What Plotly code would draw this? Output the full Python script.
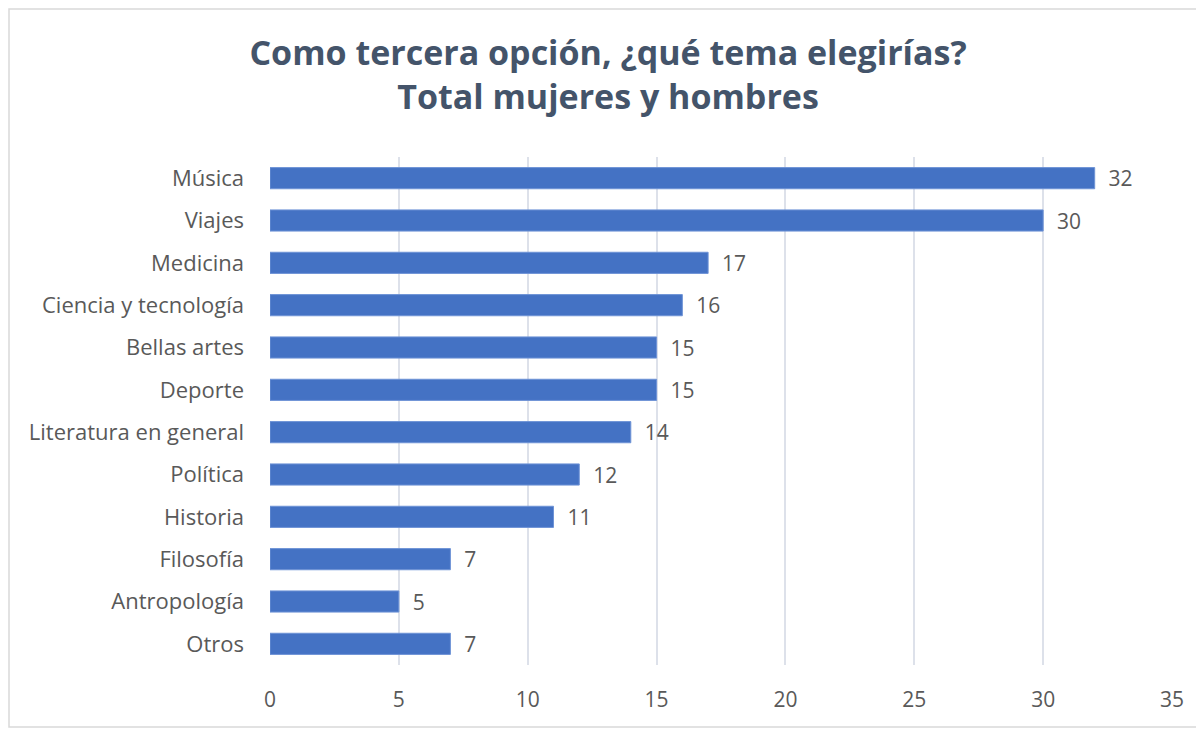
import plotly.graph_objects as go

temas = ["Música", "Viajes", "Medicina", "Ciencia y tecnología", "Bellas artes",
         "Deporte", "Literatura en general", "Política", "Historia", "Filosofía",
         "Antropología", "Otros"]
valores = [32, 30, 17, 16, 15, 15, 14, 12, 11, 7, 5, 7]
titulo = "Como tercera opción, ¿qué tema elegirías?<br>Total mujeres y hombres"

# la página tiene 8px de margen en el body, se compensa aquí
W, H = 1196, 722
L, R, T, B = 262, 32, 149, 65
pw, ph = W - L - R, H - T - B

fig = go.Figure(go.Bar(
    x=valores, y=temas, orientation="h",
    marker=dict(color="#4472C4", line=dict(color="#6E93D6", width=1)),
    width=0.5,
    text=valores, texttemplate="  %{x}", textposition="outside",
    constraintext="none",
    textfont=dict(size=21, color="#595959"),
    cliponaxis=False,
))

# borde del gráfico
fig.add_shape(type="rect", xref="paper", yref="paper",
              x0=(1 - L) / pw, x1=(1189 - L) / pw,
              y0=(H - B - 719) / ph, y1=(H - B - 1) / ph,
              line=dict(color="#D9D9D9", width=1.5), layer="below")

fig.update_layout(
    width=W, height=H,
    margin=dict(l=L, r=R, t=T, b=B),
    paper_bgcolor="white", plot_bgcolor="white",
    font=dict(family="Open Sans", color="#595959"),
    title=dict(text=titulo, x=0.5017, xanchor="center", y=0.921, yanchor="middle",
               font=dict(size=34, color="#44546A", family="Open Sans", weight="bold")),
    showlegend=False,
)
fig.update_xaxes(range=[0, 35], dtick=5, showgrid=True, gridcolor="#DDE1EA", gridwidth=1.5,
                 zeroline=False, showline=False, ticks="",
                 tickfont=dict(size=21, color="#595959"), ticklabelstandoff=20)
fig.update_yaxes(autorange="reversed", showgrid=False, showline=False, ticks="",
                 tickfont=dict(size=22, color="#595959"), ticklabelstandoff=25)

fig.write_html("out.html")
